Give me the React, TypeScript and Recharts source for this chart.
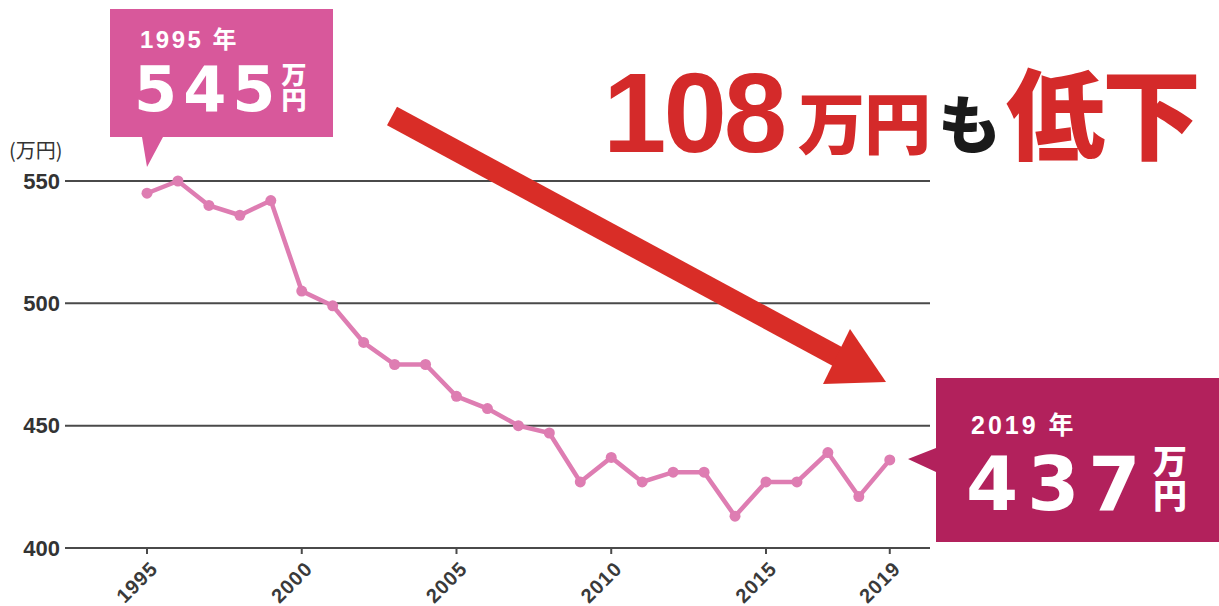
import { LineChart, Line, XAxis, YAxis, CartesianGrid } from 'recharts';

// 平均所得の推移（万円）
const years = [
  1995, 1996, 1997, 1998, 1999, 2000, 2001, 2002, 2003, 2004, 2005, 2006, 2007,
  2008, 2009, 2010, 2011, 2012, 2013, 2014, 2015, 2016, 2017, 2018, 2019,
];
const income = [
  545, 550, 540, 536, 542, 505, 499, 484, 475, 475, 462, 457, 450, 447, 427,
  437, 427, 431, 431, 413, 427, 427, 439, 421, 436,
];
const xTicks = [1995, 2000, 2005, 2010, 2015, 2019];
const yTicks = [400, 450, 500, 550];

const LINE_COLOR = '#de7db2';
const AXIS_COLOR = '#4a4a4a';
const LATIN = "'Liberation Sans', Arial, 'Noto Sans CJK JP', sans-serif";
const WIDE = "'DejaVu Sans', 'Noto Sans CJK JP', sans-serif";
const CJK = "'Noto Sans CJK JP', sans-serif";

const data = years.map((year, i) => ({ year, income: income[i] }));

function YearTick({ x, y, payload }: any) {
  return (
    <g transform={`translate(${x + 12},${y + 16})`}>
      <text
        transform="rotate(-45)"
        textAnchor="end"
        fill="#3a3a3a"
        fontFamily={LATIN}
        fontWeight="bold"
        fontSize={20}
        letterSpacing={1}
      >
        {payload.value}
      </text>
    </g>
  );
}

function Overlay() {
  return (
    <svg
      width={1219}
      height={606}
      style={{ position: 'absolute', left: 0, top: 0, pointerEvents: 'none' }}
    >
      {/* unit label */}
      <text x={9} y={158} fontFamily={CJK} fontSize={20} fill="#333">
        (万円)
      </text>

      {/* down arrow */}
      <line
        x1={392}
        y1={116}
        x2={842}
        y2={359}
        stroke="#d92d27"
        strokeWidth={21}
      />
      <polygon points="850,329 823,384 886,382" fill="#d92d27" />

      {/* headline */}
      <text
        x={603}
        y={152}
        fontFamily={LATIN}
        fontWeight="bold"
        fontSize={114}
        letterSpacing={-3}
        fill="#d42a2a"
      >
        108
      </text>
      <text
        x={798}
        y={149}
        fontFamily={CJK}
        fontWeight="900"
        fontSize={67}
        letterSpacing={-1}
        fill="#d42a2a"
      >
        万円
      </text>
      <text
        x={938}
        y={148}
        fontFamily={CJK}
        fontWeight="900"
        fontSize={63}
        fill="#1a1a1a"
      >
        も
      </text>
      <text
        x={1006}
        y={152}
        fontFamily={CJK}
        fontWeight="900"
        fontSize={99}
        letterSpacing={-3}
        fill="#d42a2a"
      >
        低下
      </text>

      {/* 1995 callout */}
      <path
        d="M110 9 H333 V137 H163 L147 167 L142 137 H110 Z"
        fill="#d8589b"
      />
      <text fill="#fff" fontWeight="bold">
        <tspan x={140} y={48} fontFamily={LATIN} fontSize={24} letterSpacing={2.5}>
          1995 年
        </tspan>
        <tspan x={134} y={111} fontFamily={WIDE} fontSize={62} letterSpacing={6}>
          545
        </tspan>
      </text>
      <text
        x={294}
        y={62}
        writingMode="tb"
        fontFamily={CJK}
        fontWeight="900"
        fontSize={25}
        fill="#fff"
      >
        万円
      </text>

      {/* 2019 callout */}
      <path
        d="M936 378 H1219 V542 H936 V472 L908 459 L936 448 Z"
        fill="#b2215c"
      />
      <text fill="#fff" fontWeight="bold">
        <tspan x={971} y={434} fontFamily={LATIN} fontSize={25} letterSpacing={3}>
          2019 年
        </tspan>
        <tspan x={966} y={510} fontFamily={WIDE} fontSize={75} letterSpacing={9}>
          437
        </tspan>
      </text>
      <text
        x={1170}
        y={444}
        writingMode="tb"
        fontFamily={CJK}
        fontWeight="900"
        fontSize={34}
        fill="#fff"
      >
        万円
      </text>
    </svg>
  );
}

export default function App() {
  return (
    <div style={{ position: 'relative', width: 1219, height: 606, background: '#fff' }}>
      <style>{`body{margin:0}`}</style>
      <LineChart
        width={1219}
        height={606}
        data={data}
        margin={{ top: 181, right: 289, bottom: 8, left: 5 }}
      >
        <CartesianGrid
          horizontal
          vertical={false}
          stroke={AXIS_COLOR}
          strokeWidth={2}
        />
        <XAxis
          dataKey="year"
          type="number"
          domain={[1992.35, 2020.3]}
          ticks={xTicks}
          height={50}
          tickSize={6}
          tickMargin={0}
          stroke={AXIS_COLOR}
          strokeWidth={2}
          tick={<YearTick />}
        />
        <YAxis
          domain={[400, 550]}
          ticks={yTicks}
          width={60}
          axisLine={false}
          tickLine={false}
          tickSize={0}
          tickMargin={5}
          tick={{
            fill: '#333',
            fontSize: 22,
            fontWeight: 'bold',
            fontFamily: LATIN,
          }}
        />
        <Line
          dataKey="income"
          stroke={LINE_COLOR}
          strokeWidth={4.5}
          dot={{ r: 5.5, fill: LINE_COLOR, stroke: 'none' }}
          activeDot={false}
          isAnimationActive={false}
        />
      </LineChart>
      <Overlay />
    </div>
  );
}
